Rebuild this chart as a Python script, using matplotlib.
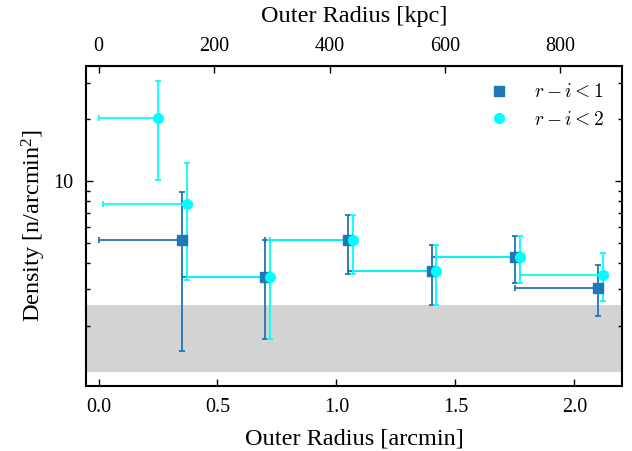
import numpy as np
import matplotlib
matplotlib.use('Agg')
import matplotlib.pyplot as plt
from matplotlib.lines import Line2D
from matplotlib.ticker import FuncFormatter, NullFormatter

plt.rcParams['font.family'] = 'serif'
plt.rcParams['font.serif'] = ['Liberation Serif', 'DejaVu Serif']
plt.rcParams['mathtext.fontset'] = 'cm'

# kpc per arcmin for the top axis
KPC_PER_ARCMIN = 412.0

# r-i < 1 (squares)
r1_inner = [0.00, 0.35, 0.70, 1.05, 1.40, 1.75]
r1_outer = [0.35, 0.70, 1.05, 1.40, 1.75, 2.10]
r1_dens = [5.18, 3.44, 5.18, 3.67, 4.30, 3.05]
r1_hi = [8.85, 5.22, 6.90, 4.90, 5.43, 3.92]
r1_lo = [1.51, 1.73, 3.57, 2.53, 3.21, 2.22]

# r-i < 2 (circles)
r2_inner = [0.00, 0.02, 0.37, 0.72, 1.07, 1.42, 1.77]
r2_outer = [0.25, 0.37, 0.72, 1.07, 1.42, 1.77, 2.12]
r2_dens = [20.3, 7.80, 3.44, 5.18, 3.67, 4.30, 3.53]
r2_hi = [30.5, 12.3, 5.22, 6.90, 4.90, 5.43, 4.47]
r2_lo = [10.1, 3.33, 1.73, 3.57, 2.53, 3.21, 2.63]

# background level band
bkg_lo, bkg_hi = 1.19, 2.51

kpc_ticks = [0, 200, 400, 600, 800]
arcmin_ticks = [0.0, 0.5, 1.0, 1.5, 2.0]

c1 = '#1f77b4'
c2 = '#00ffff'


def draw(ax, inner, outer, dens, hi, lo, fmt, color):
    inner, outer, dens = np.array(inner), np.array(outer), np.array(dens)
    xerr = [outer - inner, np.zeros_like(outer)]
    yerr = [dens - np.array(lo), np.array(hi) - dens]
    ax.errorbar(outer, dens, xerr=xerr, yerr=yerr, fmt=fmt, color=color,
                ms=7, elinewidth=1.3, capsize=2, capthick=1.3, zorder=3)


fig = plt.figure(figsize=(6.32, 4.51), dpi=100)
ax = fig.add_axes([0.136, 0.1448, 0.848, 0.7089])

ax.axhspan(bkg_lo, bkg_hi, color='#d3d3d3', zorder=0, lw=0)
draw(ax, r1_inner, r1_outer, r1_dens, r1_hi, r1_lo, 's', c1)
draw(ax, r2_inner, r2_outer, r2_dens, r2_hi, r2_lo, 'o', c2)

ax.set_yscale('log')
ax.set_ylim(1.023, 36.2)
ax.set_xlim(-0.053, 2.2)
ax.set_xticks(arcmin_ticks)
ax.yaxis.set_major_formatter(FuncFormatter(lambda v, p: '%g' % v))
ax.yaxis.set_minor_formatter(NullFormatter())

ax.tick_params(which='both', direction='in', right=True, top=False, width=1)
ax.tick_params(which='major', length=5, labelsize=14.5, pad=9)
ax.tick_params(which='minor', length=3)
for s in ax.spines.values():
    s.set_linewidth(1.5)

ax.set_xlabel('Outer Radius [arcmin]', fontsize=17.5, labelpad=8)
ax.set_ylabel(r'Density [n/arcmin$\mathregular{^2}$]', fontsize=17.5)

top = ax.secondary_xaxis('top', functions=(lambda a: a * KPC_PER_ARCMIN,
                                           lambda k: k / KPC_PER_ARCMIN))
top.set_xticks(kpc_ticks)
top.tick_params(direction='in', length=5, width=1, labelsize=14.5, pad=7)
top.set_xlabel('Outer Radius [kpc]', fontsize=17.5, labelpad=11)

handles = [Line2D([], [], ls='none', marker='s', ms=7, color=c1),
           Line2D([], [], ls='none', marker='o', ms=7, color=c2)]
ax.legend(handles, [r'$r-i<1$', r'$r-i<2$'], loc='upper right',
          frameon=False, fontsize=14)

fig.savefig('out.png', dpi=100)
